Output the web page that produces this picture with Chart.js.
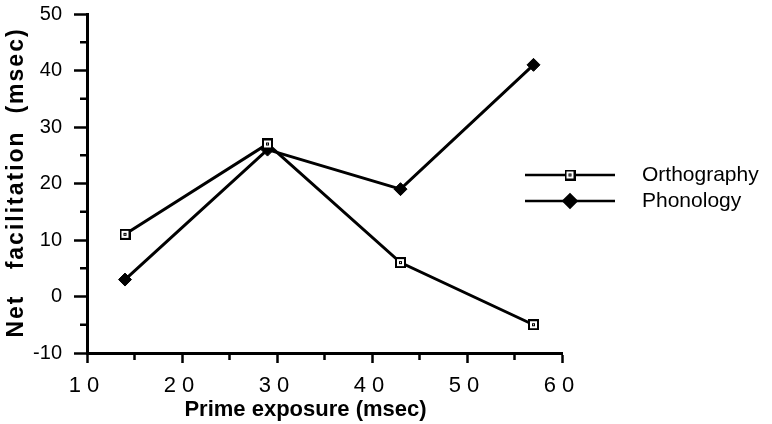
<!DOCTYPE html>
<html>
<head>
<meta charset="utf-8">
<script src="https://cdn.jsdelivr.net/npm/chart.js@4"></script>
<style>
    body { margin: 0; background: #fff; }
    #wrap { width: 772px; height: 424px; }
</style>
</head>
<body>
<div id="wrap"><canvas id="chart" width="772" height="424"></canvas></div>
<script>
const exposures = [14, 29, 43, 57];
const orthography = [11, 27, 6, -5];
const phonology = [3, 26, 19, 41];
const seriesNames = ['Orthography', 'Phonology'];

const xMinorTicks = [15, 25, 35, 45, 55];
const yMinorTicks = [-5, 5, 15, 25, 35, 45];

const FONT = '"Liberation Sans", Arial, sans-serif';

// open square with a dot in the middle
function squareMarker() {
    const c = document.createElement('canvas');
    c.width = 11;
    c.height = 11;
    const g = c.getContext('2d');
    g.fillStyle = '#000';
    g.fillRect(0, 0, 11, 11);
    g.fillStyle = '#fff';
    g.fillRect(2, 2, 7, 7);
    g.fillStyle = '#000';
    g.fillRect(4, 4, 3, 3);
    g.fillStyle = '#fff';
    g.fillRect(5, 5, 1, 1);
    return c;
}
const squareImg = squareMarker();

// the scanned figure has letter-spaced text; wrap the scale drawing calls
const spacing = {
    id: 'spacing',
    beforeDraw(chart) {
        const ctx = chart.ctx;
        const wrap = (scale, fn, ls, dx, dy) => {
            const orig = Object.getPrototypeOf(scale)[fn];
            scale[fn] = function (area) {
                ctx.save();
                ctx.letterSpacing = ls;
                ctx.translate(dx, dy);
                orig.call(this, area);
                ctx.restore();
            };
        };
        wrap(chart.scales.x, 'drawLabels', '6px', 0, 0);
        wrap(chart.scales.x, 'drawTitle', '0px', -19, 0);
        wrap(chart.scales.y, 'drawTitle', '2px', 0, -1);
    }
};

// short ticks between the labelled ones
const minorTicks = {
    id: 'minorTicks',
    afterDraw(chart) {
        const ctx = chart.ctx;
        const xs = chart.scales.x, ys = chart.scales.y;
        ctx.save();
        ctx.strokeStyle = '#000';
        ctx.lineWidth = 2.5;
        ctx.beginPath();
        yMinorTicks.forEach(v => {
            const py = ys.getPixelForValue(v);
            ctx.moveTo(xs.left - 7, py);
            ctx.lineTo(xs.left, py);
        });
        xMinorTicks.forEach(v => {
            const px = xs.getPixelForValue(v);
            ctx.moveTo(px, ys.bottom);
            ctx.lineTo(px, ys.bottom + 7);
        });
        ctx.stroke();
        ctx.restore();
    }
};

// legend with line + marker, like the original figure
const lineLegend = {
    id: 'lineLegend',
    afterDraw(chart) {
        const ctx = chart.ctx;
        const x0 = 525, x1 = 615, textX = 642;
        const rows = [175, 201];
        ctx.save();
        chart.data.datasets.forEach((ds, i) => {
            const y = rows[i];
            ctx.strokeStyle = '#000';
            ctx.lineWidth = 2.5;
            ctx.beginPath();
            ctx.moveTo(x0, y);
            ctx.lineTo(x1, y);
            ctx.stroke();
            ctx.fillStyle = '#000';
            ctx.strokeStyle = '#000';
            Chart.helpers.drawPoint(ctx, {
                pointStyle: ds.pointStyle,
                radius: ds.pointRadius,
                rotation: 0,
                borderWidth: 1
            }, (x0 + x1) / 2, y);
            ctx.fillStyle = '#000';
            ctx.font = '21px ' + FONT;
            ctx.textAlign = 'left';
            ctx.textBaseline = 'middle';
            ctx.fillText(ds.label, textX, y);
        });
        ctx.restore();
    }
};

const ctx = document.getElementById('chart');

new Chart(ctx, {
    type: 'line',
    data: {
        datasets: [{
            label: seriesNames[0],
            data: exposures.map((x, i) => ({ x: x, y: orthography[i] })),
            borderColor: '#000',
            borderWidth: 3,
            pointStyle: squareImg,
            pointRadius: 5,
            tension: 0
        }, {
            label: seriesNames[1],
            data: exposures.map((x, i) => ({ x: x, y: phonology[i] })),
            borderColor: '#000',
            backgroundColor: '#000',
            borderWidth: 3,
            pointStyle: 'rectRot',
            pointRadius: 6.5,
            pointBorderWidth: 1,
            pointBackgroundColor: '#000',
            tension: 0
        }]
    },
    options: {
        responsive: false,
        animation: false,
        layout: {
            padding: { left: 0, right: 210, top: 14, bottom: 0 }
        },
        plugins: {
            legend: { display: false },
            tooltip: { enabled: false }
        },
        scales: {
            x: {
                type: 'linear',
                min: 10,
                max: 60,
                afterFit: s => { s.height = 71; },
                ticks: {
                    stepSize: 10,
                    color: '#000',
                    padding: 10,
                    font: { family: FONT, size: 22 }
                },
                grid: {
                    drawOnChartArea: false,
                    tickLength: 10,
                    tickWidth: 2.5,
                    tickColor: '#000'
                },
                border: { color: '#000', width: 3 },
                title: {
                    display: true,
                    text: 'Prime exposure (msec)',
                    color: '#000',
                    font: { family: FONT, size: 22, weight: 'bold' },
                    padding: { top: 0, bottom: 1 }
                }
            },
            y: {
                min: -10,
                max: 50,
                afterFit: s => {
                    s.width = 87;
                    s.paddingTop = 0;
                    s.paddingBottom = 0;
                },
                ticks: {
                    stepSize: 10,
                    color: '#000',
                    padding: 12,
                    font: { family: FONT, size: 20 }
                },
                grid: {
                    drawOnChartArea: false,
                    tickLength: 13,
                    tickWidth: 2.5,
                    tickColor: '#000'
                },
                border: { color: '#000', width: 3 },
                title: {
                    display: true,
                    text: 'Net   facilitation  (msec)',
                    color: '#000',
                    font: { family: FONT, size: 23, weight: 'bold' },
                    padding: { top: 3, bottom: 0 }
                }
            }
        }
    },
    plugins: [spacing, minorTicks, lineLegend]
});
</script>
</body>
</html>
